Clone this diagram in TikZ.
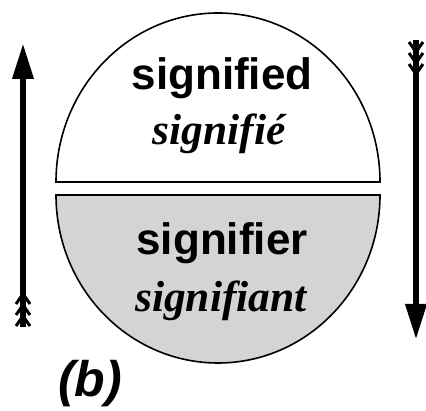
\documentclass[tikz,border=0pt]{standalone}
\usepackage{fontspec}
\setmainfont{Liberation Serif}
\setsansfont{Liberation Sans}
\usetikzlibrary{arrows.meta}
\definecolor{SignClr}{rgb}{0.83,0.83,0.83}

\tikzset{
  word/.style={anchor=base,inner sep=0pt,font=\fontsize{44}{50}\selectfont\sffamily\bfseries},
  gloss/.style={anchor=base,inner sep=0pt,font=\fontsize{43.5}{50}\selectfont\rmfamily\bfseries\itshape},
  shaft/.style={line width=6.5pt,-{Triangle[length=36pt,width=20pt]}},
  feather/.style={line width=3pt,line join=miter}
}

\begin{document}
\begin{tikzpicture}[x=1pt,y=1pt]
\useasboundingbox (0,0) rectangle (426,411);

\coordinate (T1) at (56,229);
\coordinate (T2) at (380,229);
\coordinate (B1) at (56,216);
\coordinate (B2) at (380,216);

\filldraw[fill=white,line width=1.6pt] (T1) arc[start angle=180,end angle=0,x radius=162,y radius=169] -- cycle;
\filldraw[fill=SignClr,line width=1.6pt] (B1) arc[start angle=180,end angle=360,x radius=162,y radius=168] -- cycle;
\draw[line width=2.4pt] (T1) -- (T2);
\draw[line width=2.4pt] (B1) -- (B2);

\node[word] (sd) at (222,321) {signified};
\node[gloss] (sde) at (219,266) {signifié};
\node[word] (sr) at (222,156) {signifier};
\node[gloss] (sre) at (221,99) {signifiant};
\node[anchor=base west,inner sep=0pt,font=\fontsize{50}{56}\selectfont\sffamily\bfseries\itshape] (lab) at (58,14) {(b)};

\coordinate (L1) at (23,84);
\coordinate (L2) at (23,368);
\draw[shaft] (L1) -- (L2);
\foreach \y in {95,106,117}
  \draw[feather] (16,\y-10) -- (23,\y) -- (30,\y-10);

\coordinate (R1) at (416,371);
\coordinate (R2) at (416,71);
\draw[shaft] (R1) -- (R2);
\foreach \y in {337,348,359}
  \draw[feather] (409,\y+10) -- (416,\y) -- (423,\y+10);

\end{tikzpicture}
\end{document}
